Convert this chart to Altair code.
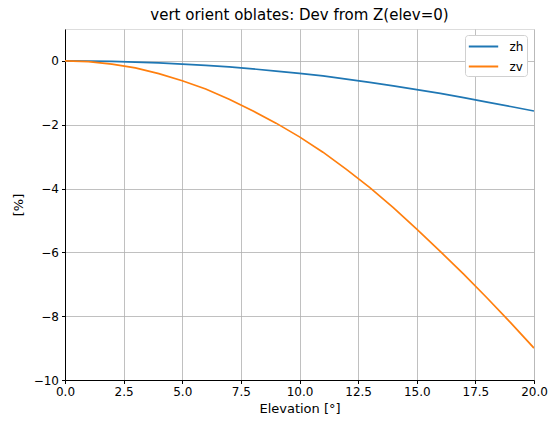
import altair as alt
import pandas as pd

elev = list(range(0, 21))
zh = [0.0, -0.004, -0.016, -0.036, -0.064, -0.10, -0.14, -0.19, -0.25, -0.32, -0.39,
      -0.47, -0.57, -0.67, -0.78, -0.90, -1.02, -1.15, -1.29, -1.43, -1.57]
zv = [0.0, -0.02, -0.10, -0.22, -0.40, -0.62, -0.88, -1.20, -1.56, -1.95, -2.38,
      -2.86, -3.40, -3.97, -4.60, -5.27, -5.97, -6.68, -7.43, -8.20, -9.00]
series = ["zh", "zv"]
colors = ["#1f77b4", "#ff7f0e"]
x_ticks = [0, 2.5, 5, 7.5, 10, 12.5, 15, 17.5, 20]
y_ticks = [-10, -8, -6, -4, -2, 0]

rows = []
for name, vals in zip(series, [zh, zv]):
    for e, v in zip(elev, vals):
        rows.append({"elev": e, "val": v, "series": name})
df = pd.DataFrame(rows)

FONT = "DejaVu Sans"

chart = alt.Chart(df).mark_line(strokeWidth=1.7, clip=True).encode(
    x=alt.X("elev:Q",
            scale=alt.Scale(domain=[0, 20], nice=False, zero=False),
            axis=alt.Axis(values=x_ticks, format=".1f", title="Elevation [°]",
                          labelFontSize=12, titleFontSize=13, titleFontWeight="normal",
                          labelFont=FONT, titleFont=FONT, labelColor="#000", titleColor="#000",
                          tickSize=3.5, tickColor="#000", domainColor="#000",
                          labelPadding=3, titlePadding=5,
                          gridColor="#b0b0b0", gridWidth=0.8, labelFlush=False)),
    y=alt.Y("val:Q",
            scale=alt.Scale(domain=[-10, 1], nice=False, zero=False),
            axis=alt.Axis(values=y_ticks, format="d", title="[%]",
                          labelFontSize=12, titleFontSize=13, titleFontWeight="normal",
                          labelFont=FONT, titleFont=FONT, labelColor="#000", titleColor="#000",
                          tickSize=3.5, tickColor="#000", domainColor="#000",
                          labelPadding=3, titlePadding=8,
                          gridColor="#b0b0b0", gridWidth=0.8)),
    color=alt.Color("series:N",
                    scale=alt.Scale(domain=series, range=colors),
                    legend=alt.Legend(title=None, orient="none", legendX=400, legendY=6,
                                      symbolType="M-1.1,0L3.1,0", symbolStrokeWidth=2,
                                      symbolSize=196, labelFontSize=12, labelFont=FONT,
                                      labelColor="#000",
                                      fillColor="white", strokeColor="#d0d0d0",
                                      padding=3.5, cornerRadius=3, rowPadding=6,
                                      labelOffset=25)),
).properties(
    width=469, height=351,
    title=alt.TitleParams("vert orient oblates: Dev from Z(elev=0)", fontSize=15,
                          font=FONT, fontWeight="normal", color="#000", offset=6),
    padding={"left": 65, "top": 29, "right": 15, "bottom": 41},
    autosize=alt.AutoSizeParams(type="none"),
).configure_view(stroke="#000", strokeWidth=0.8).configure(background="white")

chart.save("out.html", embed_options={"renderer": "svg", "actions": False})
